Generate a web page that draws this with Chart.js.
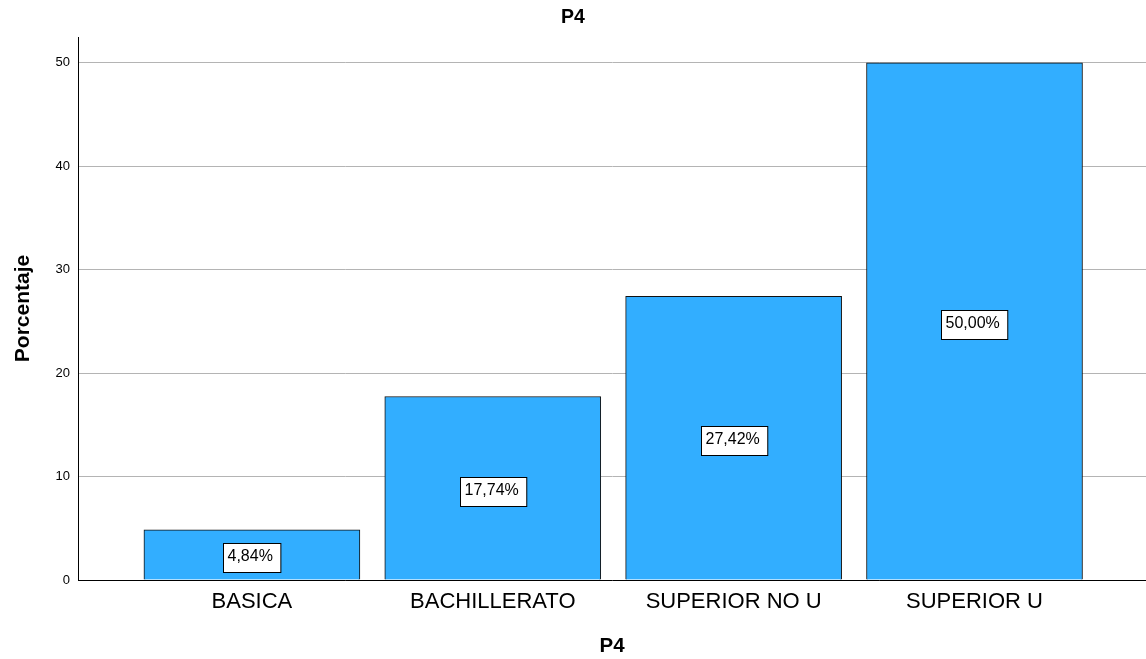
<!DOCTYPE html>
<html>
<head>
<meta charset="utf-8">
<script src="https://cdn.jsdelivr.net/npm/chart.js@4"></script>
<style>
  html, body { margin: 0; padding: 0; background: #fff; }
  #wrap { width: 1146px; height: 659px; }
</style>
</head>
<body>
<div id="wrap"><canvas id="chart" width="1146" height="659"></canvas></div>
<script>
const categories = ["BASICA", "BACHILLERATO", "SUPERIOR NO U", "SUPERIOR U"];
const percentages = [4.84, 17.74, 27.42, 50.00];
const yTicks = [0, 10, 20, 30, 40, 50];

const FONT = "Arial, 'Liberation Sans', sans-serif";

// white boxes with the percentage, centred on half the bar height
const boxLabels = {
  id: "boxLabels",
  afterDatasetsDraw(chart) {
    const ctx = chart.ctx;
    const meta = chart.getDatasetMeta(0);
    ctx.save();
    ctx.font = "16px " + FONT;
    ctx.textBaseline = "alphabetic";
    ctx.textAlign = "left";
    meta.data.forEach((bar, i) => {
      const text = percentages[i].toFixed(2).replace(".", ",") + "%";
      const w = ctx.measureText(text).width + 12;
      const h = 29;
      const mid = (bar.y + bar.base) / 2;
      const left = Math.round(bar.x - w / 2) + 0.5;
      const top = Math.round(mid - 11.5) + 0.5;
      ctx.fillStyle = "#fff";
      ctx.fillRect(left, top, w, h);
      ctx.strokeStyle = "#000";
      ctx.lineWidth = 1;
      ctx.strokeRect(left, top, w, h);
      ctx.fillStyle = "#000";
      ctx.fillText(text, left + 4, top + 17);
    });
    ctx.restore();
  }
};

new Chart(document.getElementById("chart"), {
  type: "bar",
  data: {
    datasets: [{
      data: percentages.map((v, i) => ({ x: i, y: v })),
      backgroundColor: "#32aeff",
      borderColor: "#111",
      borderWidth: 1,
      barThickness: 216
    }]
  },
  options: {
    responsive: false,
    animation: false,
    layout: { padding: 0 },
    plugins: {
      legend: { display: false },
      tooltip: { enabled: false },
      title: {
        display: true,
        text: "P4",
        color: "#000",
        font: { family: FONT, size: 19.5, weight: "bold" },
        padding: { top: 6.3, bottom: 7.3 }
      }
    },
    scales: {
      x: {
        type: "linear",
        offset: false,
        min: -0.722,
        max: 3.712,
        afterFit: (s) => { s.height = 79; },
        grid: { display: false, drawTicks: false, offset: false },
        border: { color: "#000", width: 1 },
        ticks: {
          stepSize: 1,
          includeBounds: false,
          autoSkip: false,
          maxRotation: 0,
          padding: 9,
          color: "#000",
          font: { family: FONT, size: 22 },
          callback: (v) => categories[v]
        },
        title: {
          display: true,
          text: "P4",
          color: "#000",
          font: { family: FONT, size: 20.5, weight: "bold" },
          padding: { top: 2.2, bottom: 0 }
        }
      },
      y: {
        min: 0,
        max: 52.5,
        afterFit: (s) => { s.width = 78; },
        afterBuildTicks: (s) => { s.ticks = yTicks.map((v) => ({ value: v })); },
        grid: { color: "#b4b4b4", lineWidth: 1, drawTicks: false },
        border: { color: "#000", width: 1 },
        ticks: {
          padding: 8,
          color: "#000",
          font: { family: FONT, size: 13 }
        },
        title: {
          display: true,
          text: "Porcentaje",
          color: "#000",
          font: { family: FONT, size: 21, weight: "bold" },
          padding: { top: 10.9, bottom: 0 }
        }
      }
    }
  },
  plugins: [boxLabels]
});
</script>
</body>
</html>
